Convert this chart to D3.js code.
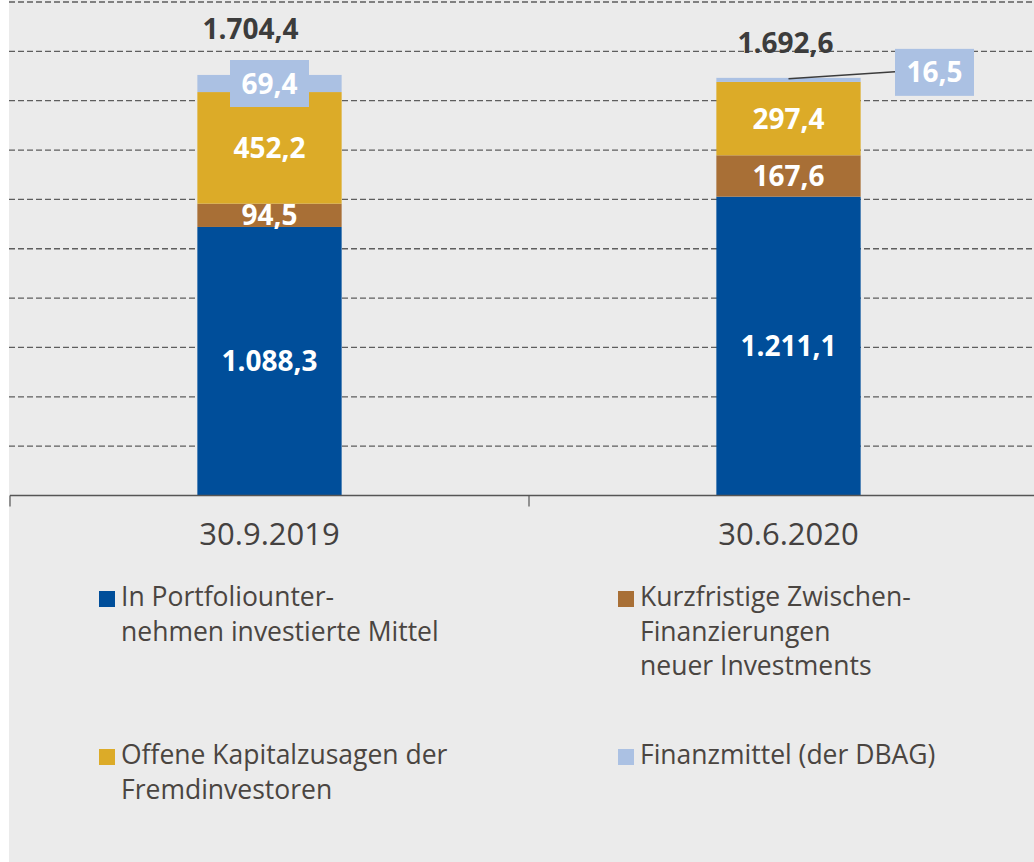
<!DOCTYPE html>
<html>
<head>
<meta charset="utf-8">
<script src="https://cdn.jsdelivr.net/npm/d3@7"></script>
<style>
  body { margin: 0; background: #fff; }
  svg { display: block; }
  text { font-family: "Open Sans", "Noto Sans", sans-serif; }
</style>
</head>
<body>
<div id="chart"></div>
<script>
// data (Mio. €)
const categories = ["30.9.2019", "30.6.2020"];
const invested = [1088.3, 1211.1];      // In Portfoliounternehmen investierte Mittel
const bridge = [94.5, 167.6];           // Kurzfristige Zwischenfinanzierungen
const commitments = [452.2, 297.4];     // Offene Kapitalzusagen der Fremdinvestoren
const cash = [69.4, 16.5];              // Finanzmittel (der DBAG)
const totals = [1704.4, 1692.6];
const yTicks = [200, 400, 600, 800, 1000, 1200, 1400, 1600, 1800, 2000];

const seriesKeys = ["invested", "bridge", "commitments", "cash"];
const seriesColors = ["#004e9a", "#a86f36", "#dcab28", "#abc1e3"];
const legendLabels = [
  ["In Portfoliounter-", "nehmen investierte Mittel"],
  ["Kurzfristige Zwischen-", "Finanzierungen", "neuer Investments"],
  ["Offene Kapitalzusagen der", "Fremdinvestoren"],
  ["Finanzmittel (der DBAG)"]
];

const width = 1034;
const height = 862;

const fmt = d3.formatLocale({ decimal: ",", thousands: ".", grouping: [3], currency: ["", "€"] }).format(",.1f");

const table = categories.map((c, i) => ({
  category: c,
  invested: invested[i],
  bridge: bridge[i],
  commitments: commitments[i],
  cash: cash[i],
  total: totals[i]
}));

const svg = d3.select("#chart").append("svg")
  .attr("width", width)
  .attr("height", height);

// grey panel
svg.append("rect")
  .attr("x", 9).attr("y", 0)
  .attr("width", width - 9).attr("height", height)
  .attr("fill", "#ebebeb");

const x = d3.scaleBand()
  .domain(categories)
  .range([10, 1048])
  .paddingInner(0.722)
  .paddingOuter(0.361);

const y = d3.scaleLinear()
  .domain([0, 2000])
  .range([495.5, 2]);

// dashed gridlines
svg.append("g")
  .selectAll("line")
  .data(yTicks)
  .join("line")
  .attr("x1", 9)
  .attr("x2", width)
  .attr("y1", d => y(d))
  .attr("y2", d => y(d))
  .attr("stroke", "#5e5e5e")
  .attr("stroke-width", 1.3)
  .attr("stroke-dasharray", "6,3");

// stacked bars
const stacked = d3.stack().keys(seriesKeys)(table);

const layers = svg.append("g")
  .selectAll("g")
  .data(stacked)
  .join("g")
  .attr("fill", (d, i) => seriesColors[i]);

layers.selectAll("rect")
  .data(d => d)
  .join("rect")
  .attr("x", d => x(d.data.category))
  .attr("width", x.bandwidth())
  .attr("y", d => y(d[1]))
  .attr("height", d => y(d[0]) - y(d[1]));

// x axis line and ticks at band boundaries
const axisY = y(0);
svg.append("line")
  .attr("x1", 10).attr("x2", width)
  .attr("y1", axisY).attr("y2", axisY)
  .attr("stroke", "#555").attr("stroke-width", 1.5);

const gap = (x.step() - x.bandwidth()) / 2;
svg.append("g")
  .selectAll("line")
  .data(categories)
  .join("line")
  .attr("x1", d => x(d) - gap)
  .attr("x2", d => x(d) - gap)
  .attr("y1", axisY)
  .attr("y2", axisY + 11)
  .attr("stroke", "#555")
  .attr("stroke-width", 1.2);

svg.append("g")
  .selectAll("text")
  .data(categories)
  .join("text")
  .attr("x", d => x(d) + x.bandwidth() / 2)
  .attr("y", 545)
  .attr("text-anchor", "middle")
  .attr("font-size", 31)
  .attr("fill", "#444140")
  .text(d => d);

// segment labels inside bars (first three series)
const cx = d => x(d.data.category) + x.bandwidth() / 2;
stacked.slice(0, 3).forEach(layer => {
  svg.append("g")
    .selectAll("text")
    .data(layer)
    .join("text")
    .attr("x", cx)
    .attr("y", d => (y(d[0]) + y(d[1])) / 2)
    .attr("dy", "0.36em")
    .attr("text-anchor", "middle")
    .attr("font-size", 28)
    .attr("font-weight", 700)
    .attr("fill", "#fff")
    .text(d => fmt(d[1] - d[0]));
});

// cash labels in light-blue boxes
const cashLayer = stacked[3];
const boxOffset = [{ dx: 0, dy: null }, { dx: 146, dy: -5.5 }];
const boxW = 79, boxH = 47;
cashLayer.forEach((d, i) => {
  const bx = cx(d) + boxOffset[i].dx;
  const by = boxOffset[i].dy === null ? (y(d[0]) + y(d[1])) / 2 : y(d[1]) + boxOffset[i].dy;
  if (boxOffset[i].dx !== 0) {
    svg.append("line")
      .attr("x1", cx(d)).attr("y1", y(d[1]) + 1)
      .attr("x2", bx - boxW / 2).attr("y2", by - 0.5)
      .attr("stroke", "#3c3c3c").attr("stroke-width", 1.5);
  }
  svg.append("rect")
    .attr("x", bx - boxW / 2).attr("y", by - boxH / 2)
    .attr("width", boxW).attr("height", boxH)
    .attr("fill", seriesColors[3]);
  svg.append("text")
    .attr("x", bx).attr("y", by)
    .attr("dy", "0.36em")
    .attr("text-anchor", "middle")
    .attr("font-size", 28)
    .attr("font-weight", 700)
    .attr("fill", "#fff")
    .text(fmt(d[1] - d[0]));
});

// totals above bars
const totalOffset = [{ dx: -19, dy: -36 }, { dx: -3, dy: -25 }];
svg.append("g")
  .selectAll("text")
  .data(table)
  .join("text")
  .attr("x", (d, i) => x(d.category) + x.bandwidth() / 2 + totalOffset[i].dx)
  .attr("y", (d, i) => y(d.total) + totalOffset[i].dy)
  .attr("text-anchor", "middle")
  .attr("font-size", 28)
  .attr("font-weight", 700)
  .attr("fill", "#3c3c3c")
  .text(d => fmt(d.total));

// legend: 2 columns x 2 rows
const legendPos = [
  { x: 99, y: 591 },
  { x: 618, y: 591 },
  { x: 99, y: 749 },
  { x: 618, y: 749 }
];
const legend = svg.append("g")
  .selectAll("g")
  .data(legendLabels)
  .join("g")
  .attr("transform", (d, i) => `translate(${legendPos[i].x},${legendPos[i].y})`);

legend.append("rect")
  .attr("width", 16).attr("height", 16)
  .attr("fill", (d, i) => seriesColors[i]);

legend.append("text")
  .attr("x", 22)
  .attr("y", 15)
  .attr("font-size", 26.5)
  .attr("fill", "#4a4541")
  .selectAll("tspan")
  .data(d => d)
  .join("tspan")
  .attr("x", 22)
  .attr("dy", (d, i) => i === 0 ? 0 : 34.5)
  .text(d => d);
</script>
</body>
</html>
